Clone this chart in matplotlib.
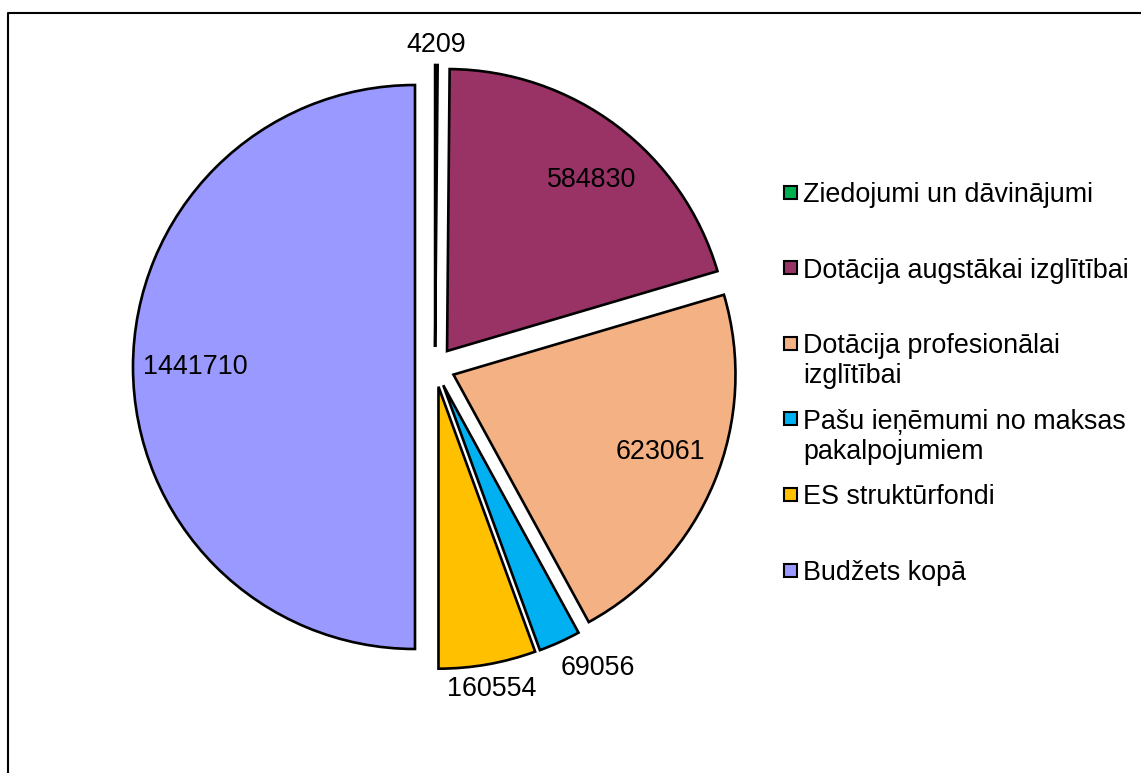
import matplotlib.pyplot as plt
from matplotlib.patches import Rectangle
from matplotlib.lines import Line2D
from numpy import cos, sin, deg2rad

plt.rcParams['font.family'] = ['Liberation Sans', 'DejaVu Sans']

# Data
categories = [
    "Ziedojumi un dāvinājumi",
    "Dotācija augstākai izglītībai",
    "Dotācija profesionālai\nizglītībai",
    "Pašu ieņēmumi no maksas\npakalpojumiem",
    "ES struktūrfondi",
    "Budžets kopā",
]
values = [4209, 584830, 623061, 69056, 160554, 1441710]
colors = ["#00B050", "#993366", "#F4B183", "#00B0F0", "#FFC000", "#9999FF"]

# label placement (radius as fraction of pie radius, small angle tweak in degrees)
label_dist = [1.07, 0.795, 0.782, 1.144, 1.09, 0.78]
label_turn = [0, -3.3, 1.9, 4.3, 0, 0]

W, H = 1141, 773
cx, cy, R = 435, 367, 282  # pie centre and radius in pixels


def px(x, y):
    # pixel (top-left origin) -> figure fraction
    return x / W, 1 - y / H


fig = plt.figure(figsize=(W / 100, H / 100), dpi=100)
ax = fig.add_axes([0, 0, 1, 1])

wedges, _ = ax.pie(values, colors=colors, startangle=90, counterclock=False,
                   explode=[20 / R] * len(values), radius=1,
                   wedgeprops=dict(edgecolor="black", linewidth=1.9))

ax.set_aspect("auto")
ax.set_xlim(-cx / R, (W - cx) / R)
ax.set_ylim(-(H - cy) / R, cy / R)
ax.axis("off")

# value labels
for w, v, d, t in zip(wedges, values, label_dist, label_turn):
    ang = deg2rad((w.theta1 + w.theta2) / 2 + t)
    x0, y0 = w.center
    ax.text(x0 + d * cos(ang), y0 + d * sin(ang), str(v),
            ha="center", va="center", fontsize=19.4, color="black")

# frame (only left and top visible in the crop)
fx = [px(8, H)[0], px(8, 13)[0], px(W, 13)[0]]
fy = [px(8, H)[1], px(8, 13)[1], px(W, 13)[1]]
fig.add_artist(Line2D(fx, fy, transform=fig.transFigure, color="black", lw=1.5))

# legend, one text per line so the marker sits on the first line
for i, (lab, col) in enumerate(zip(categories, colors)):
    yc = 192 + i * 75.6
    x, y = px(784, yc + 6.5)
    fig.add_artist(Rectangle((x, y), 13 / W, 13 / H, transform=fig.transFigure,
                             facecolor=col, edgecolor="black", lw=1.5))
    for k, line in enumerate(lab.split("\n")):
        tx, ty = px(803, yc + 10 + k * 30)
        fig.text(tx, ty, line, ha="left", va="baseline", fontsize=19.4,
                 color="black")

fig.savefig("out.png", dpi=100)
